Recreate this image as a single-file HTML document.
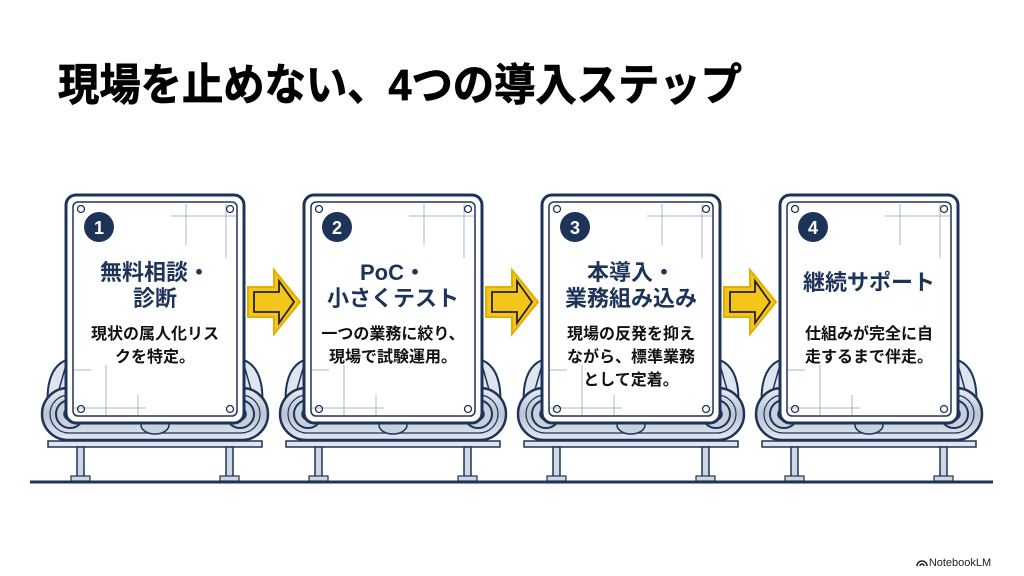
<!DOCTYPE html>
<html><head><meta charset="utf-8"><style>
body{margin:0;background:#fff}
svg{display:block}
text{font-family:"Liberation Sans","Noto Sans CJK JP",sans-serif;font-weight:bold}
</style></head><body>
<svg width="1024" height="576" viewBox="0 0 1024 576" xmlns="http://www.w3.org/2000/svg">
<defs>
<linearGradient id="metal" x1="0" y1="0" x2="0" y2="1">
<stop offset="0" stop-color="#e8edf4"/><stop offset="0.5" stop-color="#b9c4d4"/><stop offset="1" stop-color="#e4e9f0"/>
</linearGradient>
<g id="unit">
<path d="M-18 410 Q-22 362 8 358 L12 358 L12 420 Z" fill="#dfe5ee" stroke="#1e3358" stroke-width="2"/>
<path d="M196 410 Q200 362 170 358 L166 358 L166 420 Z" fill="#dfe5ee" stroke="#1e3358" stroke-width="2"/>
<path d="M-10 400 L0 365 M188 400 L178 365" stroke="#1e3358" stroke-width="1.5"/>
<rect x="-24" y="388" width="226" height="52" rx="26" fill="url(#metal)" stroke="#1e3358" stroke-width="2.5"/>
<rect x="-16" y="395" width="210" height="38" rx="19" fill="none" stroke="#1e3358" stroke-width="1.2"/>
<circle cx="4" cy="414" r="14" fill="#c7d0dd" stroke="#1e3358" stroke-width="2"/>
<circle cx="4" cy="414" r="6" fill="#8896ad" stroke="#1e3358" stroke-width="1.5"/>
<circle cx="174" cy="414" r="14" fill="#c7d0dd" stroke="#1e3358" stroke-width="2"/>
<circle cx="174" cy="414" r="6" fill="#8896ad" stroke="#1e3358" stroke-width="1.5"/>
<ellipse cx="89" cy="425" rx="14" ry="9" fill="#c7d0dd" stroke="#1e3358" stroke-width="1.5"/>
<rect x="-18" y="441" width="214" height="6" fill="#dfe5ee" stroke="#1e3358" stroke-width="1.5"/>
<rect x="11" y="447" width="7" height="30" fill="#cfd7e3" stroke="#1e3358" stroke-width="1.5"/>
<rect x="160" y="447" width="7" height="30" fill="#cfd7e3" stroke="#1e3358" stroke-width="1.5"/>
<rect x="5" y="476" width="19" height="5" fill="#cfd7e3" stroke="#1e3358" stroke-width="1.2"/>
<rect x="154" y="476" width="19" height="5" fill="#cfd7e3" stroke="#1e3358" stroke-width="1.2"/>
<rect x="0" y="195" width="178" height="228" rx="10" fill="#fff" stroke="#1e3358" stroke-width="3"/>
<rect x="7" y="202" width="164" height="214" rx="5" fill="#fff" stroke="#1e3358" stroke-width="1.5"/>
<path d="M105 216 H170 M120 204 V245 M160 204 V258 M8 370 H25 M8 408 H80 M40 365 V415 M72 395 V415" stroke="#aab4c2" stroke-width="1"/>
<circle cx="15" cy="209" r="3.5" fill="none" stroke="#1e3358" stroke-width="1.3"/>
<circle cx="164" cy="209" r="3.5" fill="none" stroke="#1e3358" stroke-width="1.3"/>
<circle cx="15" cy="409" r="3.5" fill="none" stroke="#1e3358" stroke-width="1.3"/>
<circle cx="164" cy="409" r="3.5" fill="none" stroke="#1e3358" stroke-width="1.3"/>
<circle cx="33" cy="227" r="15" fill="#1e3358"/>
</g>
<g id="arrow">
<path d="M0 -15 H26 V-32 L52 0 L26 32 V15 H0 Z" fill="#f4c51a" stroke="#e2b000" stroke-width="2"/>
<path d="M6 -10 H31 V-21 L46 0 L31 21 V10 H6 Z" fill="none" stroke="#222" stroke-width="1.8"/>
</g>
</defs>
<text x="58" y="100" font-size="44" textLength="684" lengthAdjust="spacingAndGlyphs" fill="#000" stroke="#000" stroke-width="0.8">現場を止めない、4つの導入ステップ</text>
<line x1="30" y1="482" x2="993" y2="482" stroke="#1e3358" stroke-width="3"/>
<use href="#unit" x="66"/>
<use href="#unit" x="304"/>
<use href="#unit" x="542"/>
<use href="#unit" x="780"/>
<use href="#arrow" x="248" y="302"/>
<use href="#arrow" x="486" y="302"/>
<use href="#arrow" x="724" y="302"/>
<g fill="#fff" font-size="18" text-anchor="middle">
<text x="99" y="234">1</text><text x="337" y="234">2</text><text x="575" y="234">3</text><text x="813" y="234">4</text>
</g>
<g fill="#1e3358" font-size="22" text-anchor="middle">
<text x="155" y="280">無料相談・</text><text x="155" y="306">診断</text>
<text x="393" y="280">PoC・</text><text x="393" y="306">小さくテスト</text>
<text x="631" y="280">本導入・</text><text x="631" y="306">業務組み込み</text>
<text x="869" y="290">継続サポート</text>
</g>
<g fill="#111" font-size="16" text-anchor="middle">
<text x="155" y="339">現状の属人化リス</text><text x="155" y="362">クを特定。</text>
<text x="393" y="339">一つの業務に絞り、</text><text x="393" y="362">現場で試験運用。</text>
<text x="631" y="339">現場の反発を抑え</text><text x="631" y="362">ながら、標準業務</text><text x="631" y="385">として定着。</text>
<text x="869" y="339">仕組みが完全に自</text><text x="869" y="362">走するまで伴走。</text>
</g>
<text x="960" y="566" font-size="11" text-anchor="middle" fill="#222" style="font-weight:normal">NotebookLM</text>
<path d="M917 566 a5 5 0 0 1 10 0 M920 566 a2 2 0 0 1 4 0" fill="none" stroke="#222" stroke-width="1.5"/>
</svg>
</body></html>
